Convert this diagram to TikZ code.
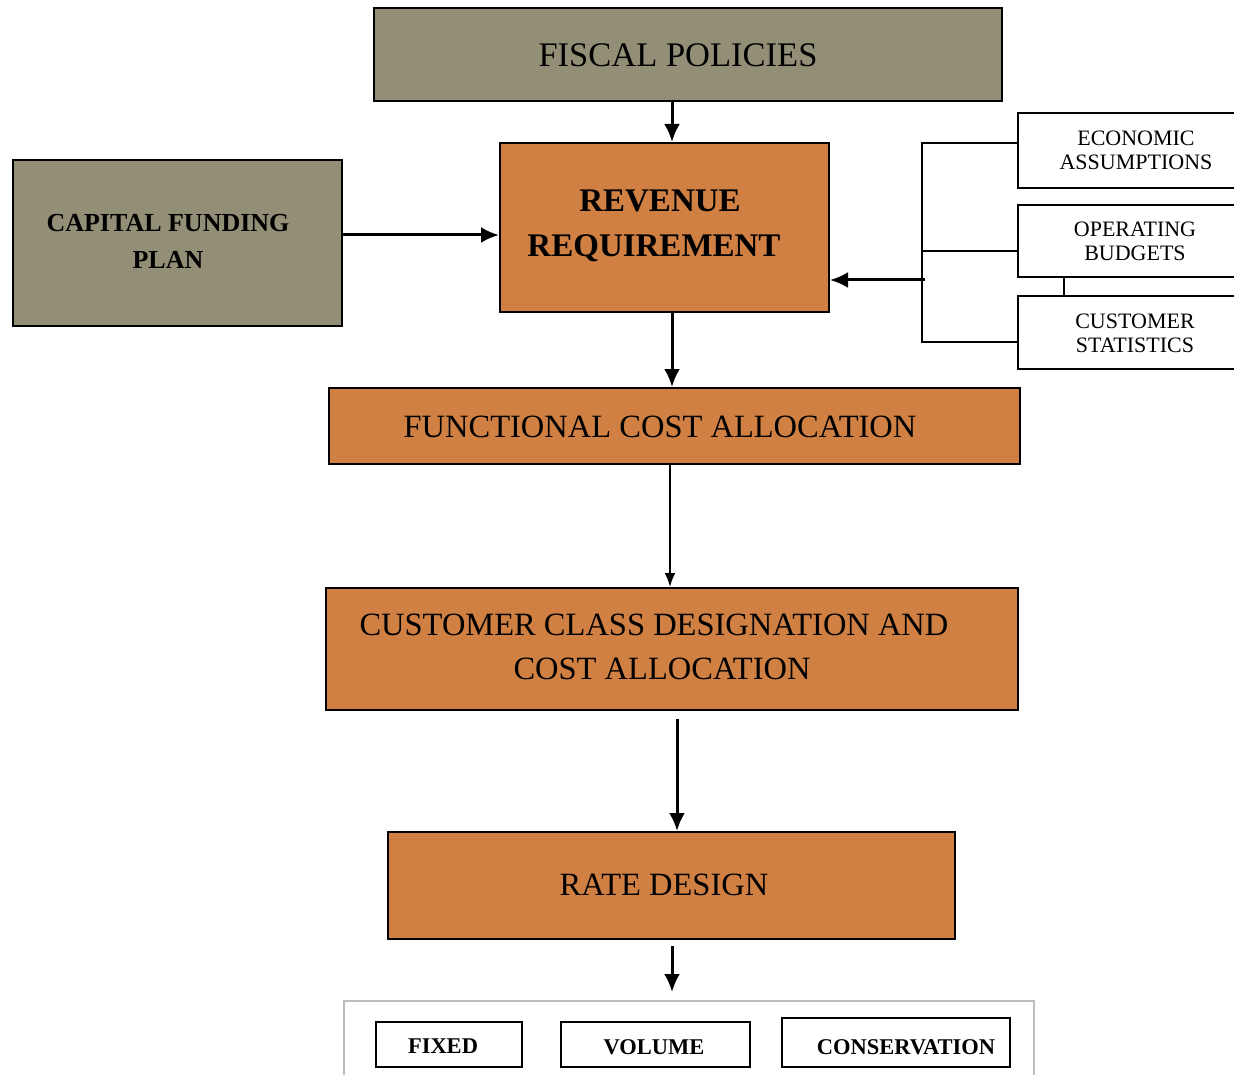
\documentclass[tikz,border=0pt]{standalone}
\usepackage{fontspec}
\setmainfont{Liberation Serif}
\usetikzlibrary{arrows.meta}
\definecolor{olivegray}{HTML}{938F77}
\definecolor{boxorange}{HTML}{CF8042}
\definecolor{framegray}{HTML}{BDBDBD}
\begin{document}
\begin{tikzpicture}[x=1pt,y=-1pt,
  box/.style={draw=black, line width=2pt, inner sep=0pt, align=center},
  olivebox/.style={box, fill=olivegray},
  orangebox/.style={box, fill=boxorange},
  sidebox/.style={draw=black, line width=1.6pt, inner sep=0pt},
  sidetext/.style={font=\fontsize{22}{24}\selectfont, align=center, inner sep=0pt},
  optbox/.style={draw=black, line width=2pt, inner sep=0pt},
  opttext/.style={font=\bfseries\fontsize{22.5}{24}\selectfont, inner sep=0pt},
  bigtext/.style={font=\fontsize{32.5}{44}\selectfont, inner sep=0pt},
  revtext/.style={font=\bfseries\fontsize{33}{40}\selectfont, inner sep=0pt},
  arr/.style={line width=3pt, -{Latex[length=18pt,width=16pt]}},
  thinarr/.style={line width=2pt, -{Latex[length=14pt,width=11pt]}},
  link/.style={line width=1.5pt}
]
\useasboundingbox (0,0) rectangle (1234,1075);

% main boxes
\node[olivebox, minimum width=628pt, minimum height=93pt] (fiscal) at (688,54.5) {};
\node[inner sep=0pt, font=\fontsize{34.5}{40}\selectfont] (fiscalt) at (678,55) {FISCAL POLICIES};
\node[orangebox, minimum width=329pt, minimum height=169pt] (rev) at (664.5,227.5) {};
\node[revtext] (revt1) at (660,201) {REVENUE};
\node[revtext] (revt2) at (654,248) {REQUIREMENT};
\node[olivebox, minimum width=329pt, minimum height=166pt] (cap) at (177.5,243) {};
\node[font=\bfseries\fontsize{26}{37}\selectfont, align=center, inner sep=0pt] (capt) at (168,241) {CAPITAL FUNDING\\PLAN};
\node[orangebox, minimum width=691pt, minimum height=76pt] (func) at (674.5,426) {};
\node[bigtext] (funct) at (660,427) {FUNCTIONAL COST ALLOCATION};
\node[orangebox, minimum width=692pt, minimum height=122pt] (ccd) at (672,649) {};
\node[bigtext] (ccdt1) at (654,625) {CUSTOMER CLASS DESIGNATION AND};
\node[bigtext] (ccdt2) at (662,669) {COST ALLOCATION};
\node[orangebox, minimum width=567pt, minimum height=107pt] (rate) at (671.5,885.5) {};
\node[bigtext] (ratet) at (664,885) {RATE DESIGN};

% side boxes (cut by the right edge)
\node[sidebox, minimum width=222pt, minimum height=75pt] (eco) at (1129,150.5) {};
\node[sidetext] (ecot) at (1136,150) {ECONOMIC\\ASSUMPTIONS};
\node[sidebox, minimum width=222pt, minimum height=72pt] (op) at (1129,241) {};
\node[sidetext] (opt) at (1135,241) {OPERATING\\BUDGETS};
\node[sidebox, minimum width=222pt, minimum height=73pt] (cs) at (1129,332.5) {};
\node[sidetext] (cst) at (1135,333) {CUSTOMER\\STATISTICS};

% bracket
\coordinate (bt) at (922,143);
\coordinate (bmid) at (922,251);
\coordinate (bb) at (922,342);
\coordinate (bar) at (925,280);
\draw[link] (eco.west |- bt) -- (bt) -- (bb) -- (cs.west |- bb);
\draw[link] (bmid) -- (op.west |- bmid);
\draw[link] ([xshift=47pt]op.south west) -- ([xshift=47pt]cs.north west);
\draw[arr] (bar) -- (rev.east |- bar);

% bottom options frame
\coordinate (fbl) at (344,1085);
\coordinate (ftl) at (344,1001);
\coordinate (ftr) at (1034,1001);
\coordinate (fbr) at (1034,1085);
\draw[framegray, line width=1.6pt] (fbl) -- (ftl) -- (ftr) -- (fbr);
\node[optbox, minimum width=146pt, minimum height=45pt] (fixed) at (449,1044.5) {};
\node[opttext] (fixedt) at (443,1046) {FIXED};
\node[optbox, minimum width=189pt, minimum height=45pt] (vol) at (655.5,1044.5) {};
\node[opttext] (volt) at (654,1047) {VOLUME};
\node[optbox, minimum width=228pt, minimum height=49pt] (cons) at (896,1042.5) {};
\node[opttext] (const) at (906,1047) {CONSERVATION};

% arrows
\draw[arr] ([xshift=7.5pt]rev.north |- fiscal.south) -- ([xshift=7.5pt]rev.north);
\draw[arr] (cap.east |- 0,235) -- (rev.west |- 0,235);
\draw[arr] ([xshift=7.5pt]rev.south) -- ([xshift=7.5pt]rev.south |- func.north);
\draw[thinarr] ([xshift=-4.5pt]func.south) -- ([xshift=-4.5pt]func.south |- ccd.north);
\draw[arr] ([xshift=5pt,yshift=-8pt]ccd.south) -- ([xshift=5pt]ccd.south |- rate.north);
\coordinate (fin) at (672,992);
\draw[arr] ([xshift=0.5pt,yshift=-6pt]rate.south) -- (fin);
\end{tikzpicture}
\end{document}
